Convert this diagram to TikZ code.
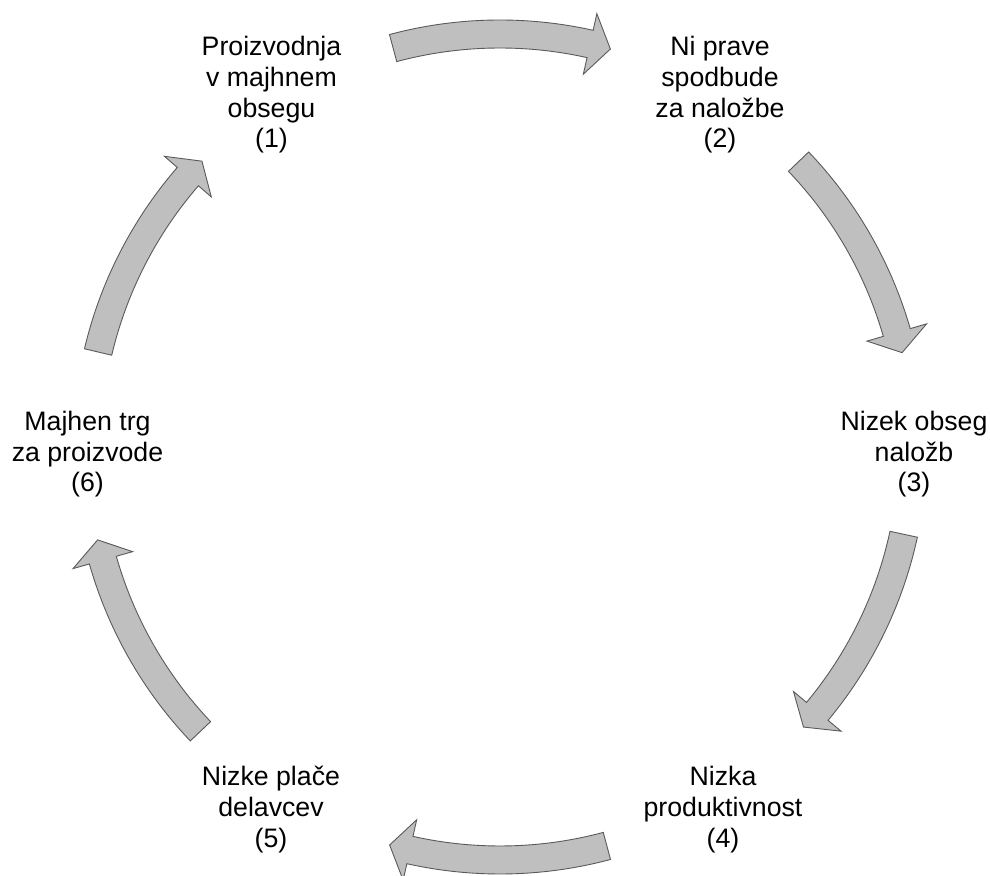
\documentclass[tikz,border=0pt]{standalone}
\usepackage{fontspec}
\setmainfont{Liberation Sans}
\definecolor{arrowgray}{HTML}{BFBFBF}
\definecolor{edgegray}{HTML}{5A5A5A}
\tikzset{
  blockarrow/.style={fill=arrowgray, draw=edgegray, line width=0.9pt, line join=miter},
  lbl/.style={align=center, inner sep=0pt, font=\fontsize{26.7}{30.7}\selectfont, text=black}
}
% #1 = angle of the arrow's tail; the arrow runs clockwise from it
\newcommand\cycarrow[1]{%
  \begin{scope}[shift={(500pt,428pt)}, rotate=#1]
    \draw[blockarrow] (0:427pt) arc[start angle=0, end angle=-27.6, radius=427pt]
      -- (-27.6:444pt) -- (-30.5:413pt) -- (-27.6:382pt) -- (-27.6:399pt)
      arc[start angle=-27.6, end angle=0, radius=399pt] -- cycle;
  \end{scope}}
\begin{document}
\begin{tikzpicture}[x=1pt,y=1pt]
  \useasboundingbox (0,0) rectangle (990,875);
  \foreach \a in {105,43.7,-12.2,-75,-136.5,166.7} {\cycarrow{\a}}
  \node[lbl] (n1) at (271.5,780) {Proizvodnja\\v majhnem\\obsegu\\(1)};
  \node[lbl] (n2) at (720,780) {Ni prave\\spodbude\\za naložbe\\(2)};
  \node[lbl] (n3) at (914,420.7) {Nizek obseg\\naložb\\(3)};
  \node[lbl] (n4) at (723,65.6) {Nizka\\produktivnost\\(4)};
  \node[lbl] (n5) at (271,65.6) {Nizke plače\\delavcev\\(5)};
  \node[lbl] (n6) at (87.5,420.7) {Majhen trg\\za proizvode\\(6)};
\end{tikzpicture}
\end{document}
